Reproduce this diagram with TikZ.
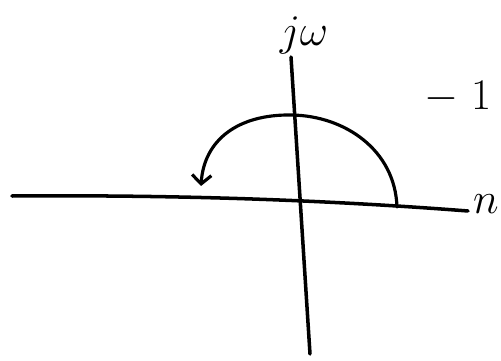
\documentclass[tikz,border=0pt]{standalone}
\usepackage{amsmath, amssymb}
\usetikzlibrary{arrows.meta,positioning,calc}

\begin{document}
\begin{tikzpicture}[
    x=0.02cm, y=-0.02cm,
    axis/.style={line width=2pt, line cap=round},
    locus/.style={line width=1.8pt, line cap=round, -{Straight Barb[length=5pt,width=11pt,line width=1.8pt]}},
    lbl/.style={font=\Huge, inner sep=0pt}
]

% Page size
\useasboundingbox (0,0) rectangle (501,361);

% Axis end points
\coordinate (reL) at (12,196);
\coordinate (reR) at (468,211);
\coordinate (imT) at (291,57);
\coordinate (imB) at (310,354);

% Axes
\draw [axis] (reL) .. controls (150,195) and (300,198) .. (reR);
\draw [axis] (imT) -- (imB);

% Labels
\node [lbl] (jw) at (304,35) {$j\omega$};
\node [lbl] (re) at (486,204) {$n$};
\node [lbl] (minusone) at (458,97) {$-\;1$};

% Locus from the real axis round to the left
\coordinate (start) at (397,207);
\coordinate (top) at (292,115);
\coordinate (tip) at (201,186);
\draw [locus] (start) .. controls (395,150) and (345,116) .. (top)
  .. controls (238,114) and (204,140) .. (tip);

\end{tikzpicture}
\end{document}
